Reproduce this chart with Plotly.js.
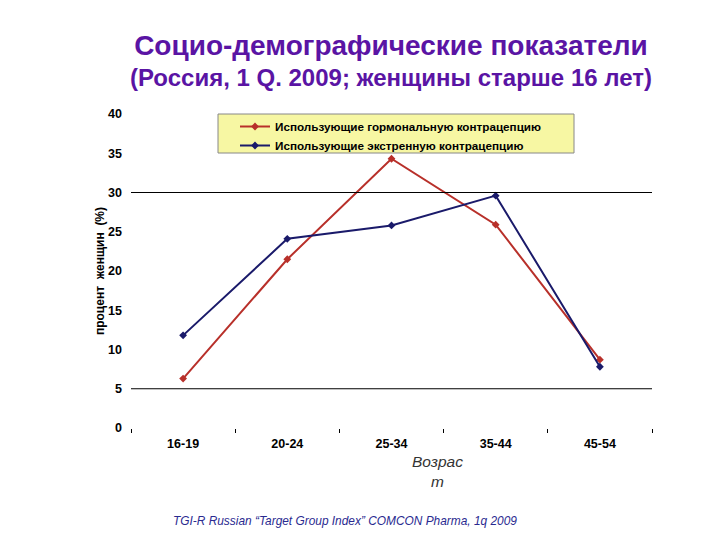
<!DOCTYPE html>
<html><head><meta charset="utf-8">
<script src="https://cdn.plot.ly/plotly-3.0.1.min.js"></script>
<style>body{margin:0;background:#fff}</style>
</head><body>
<div id="chart" style="width:720px;height:540px"></div>
<script>
const categories = ["16-19", "20-24", "25-34", "35-44", "45-54"];
const hormonal = [6.3, 21.5, 34.3, 25.9, 8.7];
const emergency = [11.8, 24.1, 25.8, 29.6, 7.8];
const seriesNames = ["Использующие гормональную контрацепцию", "Использующие экстренную контрацепцию"];
const gridValues = [30, 5];

const traces = [
  {x: categories, y: hormonal, name: "<b>" + seriesNames[0] + "</b>", type: "scatter", mode: "lines+markers",
   line: {color: "#b8302a", width: 2}, marker: {symbol: "diamond", size: 6, color: "#b8302a"}},
  {x: categories, y: emergency, name: "<b>" + seriesNames[1] + "</b>", type: "scatter", mode: "lines+markers",
   line: {color: "#1a1a6a", width: 2}, marker: {symbol: "diamond", size: 6, color: "#1a1a6a"}}
];

const layout = {
  width: 720, height: 540,
  margin: {l: 131, r: 68, t: 114, b: 112},
  paper_bgcolor: "#fff", plot_bgcolor: "#fff",
  font: {family: "Liberation Sans, Arial, sans-serif", color: "#000"},
  title: {
    text: "<b><span style='font-size:28px'>Социо-демографические показатели</span></b><br><b>(Россия, 1 Q. 2009; женщины старше 16 лет)</b>",
    font: {size: 24, color: "#5a14a4", family: "Liberation Sans, Arial, sans-serif"},
    x: 0.543, xanchor: "center", xref: "container",
    y: 1 - 55 / 540, yanchor: "top", yref: "container"
  },
  xaxis: {
    type: "category", range: [-0.5, 4.5], showgrid: false, zeroline: false, showline: false,
    ticks: "outside", tickson: "boundaries", ticklen: 4, tickcolor: "#000",
    tickfont: {size: 12.5, family: "Liberation Sans, Arial, sans-serif"}, ticklabelstandoff: 6,
    tickprefix: "<b>", ticksuffix: "</b>"
  },
  yaxis: {
    range: [0, 40], dtick: 5, showgrid: false, zeroline: false, showline: false,
    ticks: "", tickfont: {size: 12.5}, tickprefix: "<b>", ticksuffix: "</b>", ticklabelstandoff: 8,
    title: {text: "<b>процент  женщин  (%)</b>", font: {size: 12}, standoff: 0}
  },
  shapes: gridValues.map(v => ({type: "line", xref: "paper", x0: 0, x1: 1, yref: "y", y0: v, y1: v,
    line: {color: "#000", width: 1}})).concat([
    {type: "rect", xref: "paper", yref: "paper", x0: (218 - 131) / 521, x1: (574 - 131) / 521,
     y0: (428 - 153) / 314, y1: (428 - 114) / 314, fillcolor: "#f7f7a3", line: {color: "#888", width: 1}, layer: "below"}
  ]),
  legend: {
    x: (235 - 131) / 521, xanchor: "left", y: (428 - 112) / 314, yanchor: "top",
    bgcolor: "rgba(0,0,0,0)", borderwidth: 0,
    font: {size: 11.7, family: "Liberation Sans, Arial, sans-serif"}, tracegroupgap: 0,
    itemwidth: 30
  },
  annotations: [
    {text: "<i>Возрас<br>т</i>", xref: "paper", yref: "paper", x: (437 - 131) / 521, y: -0.072,
     xanchor: "center", yanchor: "top", showarrow: false, font: {size: 15.5, color: "#333"}},
    {text: "<i>TGI-R Russian “Target Group Index” COMCON Pharma, 1q 2009</i>", xref: "paper", yref: "paper",
     x: (171 - 131) / 521, y: (428 - 521) / 314, xanchor: "left", yanchor: "middle", showarrow: false,
     font: {size: 11.9, color: "#2a2a90"}}
  ],
  showlegend: true
};
Plotly.newPlot("chart", traces, layout, {displayModeBar: false});
</script>
</body></html>
